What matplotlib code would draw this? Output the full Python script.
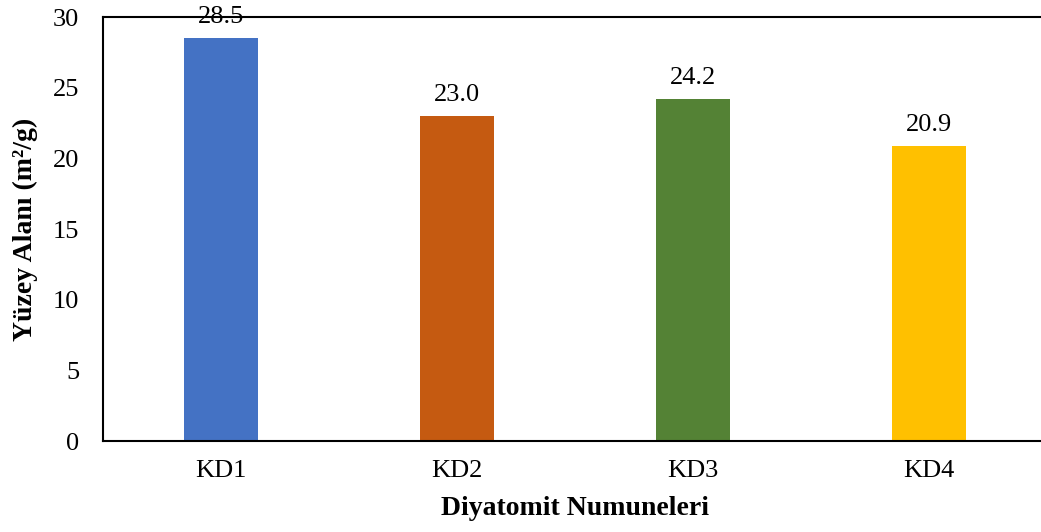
import matplotlib.pyplot as plt
import numpy as np

plt.rcParams['font.family'] = ['Liberation Serif', 'DejaVu Serif']

# --- Data ---
samples = ['KD1', 'KD2', 'KD3', 'KD4']
surface_area = [28.5, 23.0, 24.2, 20.9]
colors = ['#4472C4', '#C55A11', '#548235', '#FFC000']

fig = plt.figure(figsize=(10.41, 5.32), dpi=100)
ax = fig.add_axes([0.0989, 0.171, 0.9068, 0.797])

x = np.arange(len(samples))
bars = ax.bar(x, surface_area, width=0.31, color=colors, zorder=2)

for xi, v in zip(x, surface_area):
    ax.text(xi, v + 0.7, f'{v:.1f}', ha='center', va='bottom', fontsize=19, clip_on=False)

ax.set_xlim(-0.5, 3.5)
ax.set_ylim(0, 30)
ax.set_yticks(range(0, 31, 5))
ax.set_xticks(x)
ax.set_xticklabels(samples)
ax.tick_params(axis='both', length=0, labelsize=19)
ax.tick_params(axis='y', pad=17)
ax.tick_params(axis='x', pad=14)

for s in ['left', 'bottom', 'top']:
    ax.spines[s].set_linewidth(1.5)
ax.spines['right'].set_visible(False)

ax.set_xlabel('Diyatomit Numuneleri', fontsize=20, fontweight='bold', labelpad=10)
ax.set_ylabel('Yüzey Alanı (m²/g)', fontsize=20, fontweight='bold', labelpad=11)

fig.savefig('out.png', dpi=100)
